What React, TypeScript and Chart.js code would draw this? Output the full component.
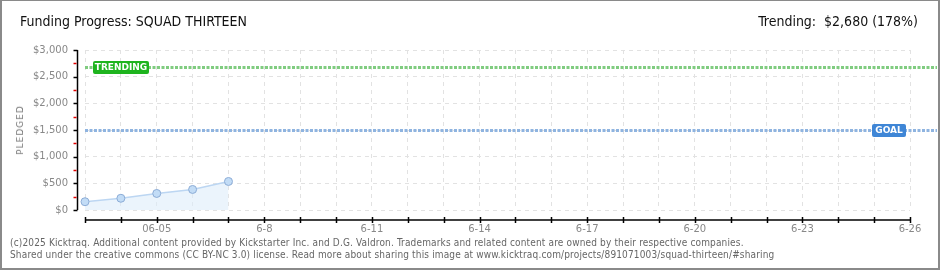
import React, { useEffect, useRef } from "react";
import { Chart, registerables } from "chart.js";
Chart.register(...registerables);

const days = ["6-3","6-4","6-5","6-6","6-7","6-8","6-9","6-10","6-11","6-12","6-13","6-14","6-15","6-16","6-17","6-18","6-19","6-20","6-21","6-22","6-23","6-24","6-25","6-26"];
const shownTickLabels = ["","","06-05","","","6-8","","","6-11","","","6-14","","","6-17","","","6-20","","","6-23","","","6-26"];
const pledged = [155, 220, 310, 385, 535];
const goal = 1500;
const trending = 2680;
const yMax = 3000;
const yStep = 500;
const titleText = "Funding Progress: SQUAD THIRTEEN";
const trendingText = "Trending:  $2,680 (178%)";
const footer1 = "(c)2025 Kicktraq. Additional content provided by Kickstarter Inc. and D.G. Valdron. Trademarks and related content are owned by their respective companies.";
const footer2 = "Shared under the creative commons (CC BY-NC 3.0) license. Read more about sharing this image at www.kicktraq.com/projects/891071003/squad-thirteen/#sharing";

const fmtMoney = (v: number) => "$" + v.toLocaleString("en-US");

function roundRect(ctx: CanvasRenderingContext2D, x: number, y: number, w: number, h: number, r: number) {
  ctx.beginPath();
  ctx.moveTo(x + r, y);
  ctx.lineTo(x + w - r, y);
  ctx.quadraticCurveTo(x + w, y, x + w, y + r);
  ctx.lineTo(x + w, y + h - r);
  ctx.quadraticCurveTo(x + w, y + h, x + w - r, y + h);
  ctx.lineTo(x + r, y + h);
  ctx.quadraticCurveTo(x, y + h, x, y + h - r);
  ctx.lineTo(x, y + r);
  ctx.quadraticCurveTo(x, y, x + r, y);
  ctx.closePath();
}

const overlayPlugin = {
  id: "overlay",
  afterDatasetsDraw(chart: any) {
    const ctx: CanvasRenderingContext2D = chart.ctx;
    const ca = chart.chartArea;
    const ys = chart.scales.y;
    const xs = chart.scales.x;
    ctx.save();
    // y axis
    const axX = Math.round(ca.left - 8) + 0.5;
    ctx.strokeStyle = "#000";
    ctx.lineWidth = 1.5;
    ctx.beginPath();
    ctx.moveTo(axX, ys.getPixelForValue(yMax));
    ctx.lineTo(axX, ys.getPixelForValue(0));
    ctx.stroke();
    for (let v = 0; v <= yMax; v += yStep) {
      const py = Math.round(ys.getPixelForValue(v)) + 0.5;
      ctx.strokeStyle = "#000";
      ctx.beginPath();
      ctx.moveTo(axX - 4, py);
      ctx.lineTo(axX, py);
      ctx.stroke();
      if (v + yStep / 2 < yMax) {
        const pm = Math.round(ys.getPixelForValue(v + yStep / 2)) + 0.5;
        ctx.strokeStyle = "#e00000";
        ctx.beginPath();
        ctx.moveTo(axX - 4, pm);
        ctx.lineTo(axX - 1, pm);
        ctx.stroke();
      }
    }
    // x axis
    const axY = ca.bottom + 10;
    ctx.strokeStyle = "#000";
    ctx.beginPath();
    ctx.moveTo(xs.getPixelForValue(0), axY);
    ctx.lineTo(xs.getPixelForValue(days.length - 1), axY);
    ctx.stroke();
    for (let i = 0; i < days.length; i++) {
      const px = Math.round(xs.getPixelForValue(i)) + 0.5;
      ctx.beginPath();
      ctx.moveTo(px, axY - 3);
      ctx.lineTo(px, axY + 3);
      ctx.stroke();
    }
    // reference lines
    const drawRef = (value: number, color: string) => {
      const py = Math.round(ys.getPixelForValue(value)) + 0.5;
      ctx.lineWidth = 3;
      ctx.setLineDash([3, 1.5]);
      ctx.strokeStyle = color;
      ctx.beginPath();
      ctx.moveTo(ca.left, py);
      ctx.lineTo(937, py);
      ctx.stroke();
      ctx.setLineDash([]);
      return py;
    };
    const ty = drawRef(trending, "#80cc80");
    const gy = drawRef(goal, "#8fb4e0");
    ctx.font = "bold 9px 'DejaVu Sans'";
    ctx.textBaseline = "middle";
    {
      const w = 56, h = 13, x = ca.left + 8, y = ty - 6.5;
      ctx.fillStyle = "#1eb41e";
      roundRect(ctx, x, y, w, h, 2);
      ctx.fill();
      ctx.fillStyle = "#fff";
      ctx.textAlign = "center";
      ctx.fillText("TRENDING", x + w / 2, ty + 0.5);
    }
    {
      const w = 34, h = 13, x = ca.right - 4 - w, y = gy - 6.5;
      ctx.fillStyle = "#3f86d6";
      roundRect(ctx, x, y, w, h, 2);
      ctx.fill();
      ctx.fillStyle = "#fff";
      ctx.textAlign = "center";
      ctx.fillText("GOAL", x + w / 2, gy + 0.5);
    }
    ctx.restore();
  },
};

export default function App() {
  const ref = useRef<HTMLCanvasElement>(null);
  useEffect(() => {
    document.body.style.margin = "0";
    const chart = new Chart(ref.current!, {
      type: "line",
      data: {
        labels: days,
        datasets: [
          {
            data: pledged,
            borderColor: "#bcd6f2",
            borderWidth: 1.5,
            backgroundColor: "rgba(222,236,250,0.6)",
            fill: "origin",
            pointRadius: 4,
            pointBackgroundColor: "#c2dcf6",
            pointBorderColor: "#8cacd6",
            pointBorderWidth: 1,
            tension: 0,
            clip: false as any,
          },
        ],
      },
      options: {
        animation: false,
        responsive: false,
        maintainAspectRatio: false,
        layout: { padding: { left: 0, right: 30, top: 50, bottom: 0 } },
        plugins: { legend: { display: false }, tooltip: { enabled: false }, title: { display: false } },
        scales: {
          x: {
            type: "category",
            offset: false,
            grid: { color: "#e2e2e2", drawTicks: false, lineWidth: 1 },
            border: { display: false, dash: [4, 4] },
            ticks: {
              autoSkip: false,
              maxRotation: 0,
              padding: 13,
              color: "#888",
              font: { family: "'DejaVu Sans'", size: 10 },
              callback: (_v: any, i: number) => shownTickLabels[i],
            },
            afterFit: (s: any) => { s.height = 60; },
          },
          y: {
            min: 0,
            max: yMax,
            grid: { color: "#e2e2e2", drawTicks: false, lineWidth: 1 },
            border: { display: false, dash: [4, 4] },
            ticks: {
              stepSize: yStep,
              padding: 17,
              color: "#888",
              font: { family: "'DejaVu Sans'", size: 10 },
              callback: (v: any) => fmtMoney(Number(v)),
            },
            afterFit: (s: any) => { s.width = 85; },
          },
        },
      },
      plugins: [overlayPlugin],
    });
    return () => chart.destroy();
  }, []);
  return (
    <div style={{ position: "relative", width: 940, height: 270, background: "#fff", overflow: "hidden" }}>
      <canvas ref={ref} width={940} height={270} style={{ position: "absolute", left: 0, top: 0, width: 940, height: 270 }} />
      <div style={{ position: "absolute", left: 20, top: 13, fontFamily: "'DejaVu Sans Condensed', 'DejaVu Sans'", fontSize: 14, color: "#111", whiteSpace: "nowrap" }}>{titleText}</div>
      <div style={{ position: "absolute", right: 22, top: 13, fontFamily: "'DejaVu Sans Condensed', 'DejaVu Sans'", fontSize: 14, color: "#111", whiteSpace: "pre" }}>{trendingText}</div>
      <div style={{ position: "absolute", left: 20, top: 130, transform: "translate(-50%,-50%) rotate(-90deg)", fontFamily: "'DejaVu Sans'", fontSize: 9, letterSpacing: 1, color: "#777", whiteSpace: "nowrap" }}>PLEDGED</div>
      <div style={{ position: "absolute", left: 10, top: 237, fontFamily: "'DejaVu Sans Condensed', 'DejaVu Sans'", fontSize: 10, lineHeight: "12px", letterSpacing: 0.15, color: "#666", whiteSpace: "nowrap" }}>
        <div>{footer1}</div>
        <div>{footer2}</div>
      </div>
      <div style={{ position: "absolute", left: 0, top: 0, width: 940, height: 270, boxSizing: "border-box", border: "2px solid #8a8a8a", borderTopWidth: 1, pointerEvents: "none" }} />
    </div>
  );
}
